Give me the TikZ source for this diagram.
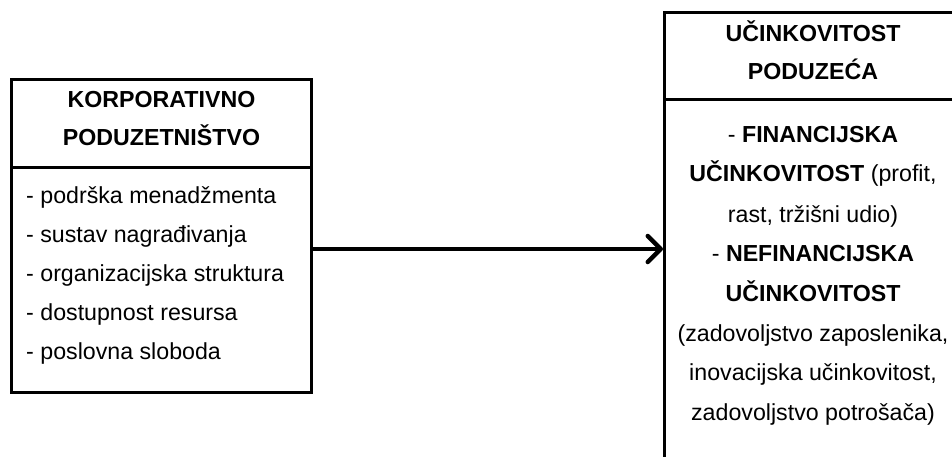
\documentclass[tikz,border=0pt]{standalone}
\usepackage{fontspec}
\setmainfont{Liberation Sans}
\usetikzlibrary{arrows.meta}
\begin{document}
\begin{tikzpicture}[x=1pt,y=-1pt,
  box/.style={draw, line width=3pt, inner sep=0pt},
  divider/.style={line width=3pt},
  txt/.style={font=\fontsize{23.2}{39.5}\selectfont, inner sep=0pt, anchor=base},
  ltxt/.style={txt, anchor=base west},
  link/.style={line width=4.5pt, -{Straight Barb[length=13pt,width=26pt,line width=4.5pt,round]}}]
\useasboundingbox (0,0) rectangle (952,457);
\clip (0,0) rectangle (952,457);
% boxes
\node[box, minimum width=300pt, minimum height=313pt] (L) at (161.5,236) {};
\node[box, minimum width=320pt, minimum height=470pt] (R) at (824.5,247.5) {};
\coordinate (ldiv) at (0,168);
\coordinate (rdiv) at (0,100);
\draw[divider] (L.west |- ldiv) -- (L.east |- ldiv);
\draw[divider] (R.west |- rdiv) -- (R.east |- rdiv);
% left texts
\node[txt] (lh1) at (161.5,108) {\textbf{KORPORATIVNO}};
\node[txt] (lh2) at (161.5,146) {\textbf{PODUZETNIŠTVO}};
\node[ltxt] (lb1) at (26,203) {- podrška menadžmenta};
\node[ltxt] (lb2) at (26,242) {- sustav nagrađivanja};
\node[ltxt] (lb3) at (26,281) {- organizacijska struktura};
\node[ltxt] (lb4) at (26,320) {- dostupnost resursa};
\node[ltxt] (lb5) at (26,359) {- poslovna sloboda};
% right texts
\node[txt] (rh1) at (813,42) {\textbf{UČINKOVITOST}};
\node[txt] (rh2) at (813,80) {\textbf{PODUZEĆA}};
\node[txt] (rb1) at (813,143) {- \textbf{FINANCIJSKA}};
\node[txt] (rb2) at (813,182) {\textbf{UČINKOVITOST} (profit,};
\node[txt] (rb3) at (813,222) {rast, tržišni udio)};
\node[txt] (rb4) at (813,261) {- \textbf{NEFINANCIJSKA}};
\node[txt] (rb5) at (813,301) {\textbf{UČINKOVITOST}};
\node[txt] (rb6) at (813,341) {(zadovoljstvo zaposlenika,};
\node[txt] (rb7) at (813,380) {inovacijska učinkovitost,};
\node[txt] (rb8) at (813,420) {zadovoljstvo potrošača)};
% connector
\coordinate (ay) at (0,249);
\draw[link] (L.east |- ay) -- (R.west |- ay);
\end{tikzpicture}
\end{document}
